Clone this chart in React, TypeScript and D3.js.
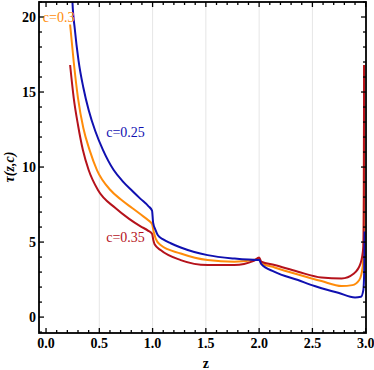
import React from 'react';
import * as d3 from 'd3';

// tau(z,c) curves, [z, tau]
const blue025: [number, number][] = [
  [0.24, 22.5], [0.248, 21], [0.27, 19.2], [0.305, 17.1], [0.35, 15.3], [0.40, 13.8],
  [0.462, 12.4], [0.535, 11.13], [0.635, 9.8], [0.72, 9.05], [0.808, 8.42], [0.887, 7.88],
  [0.96, 7.4], [0.995, 7.1], [1.005, 6.3], [1.028, 5.8], [1.05, 5.45], [1.1, 5.18], [1.17, 4.92],
  [1.264, 4.64], [1.516, 4.13], [1.767, 3.9], [1.99, 3.8], [2.0, 3.82],
  [2.019, 3.55], [2.145, 3.02], [2.365, 2.47], [2.52, 2.07], [2.742, 1.62],
  [2.90, 1.31], [2.955, 1.35], [2.978, 1.8], [2.986, 3.0], [2.99, 5.7]
];
const orange03: [number, number][] = [
  [0.226, 19.5], [0.26, 17.0], [0.30, 14.6], [0.35, 12.6], [0.409, 11.13],
  [0.478, 9.8], [0.604, 8.47], [0.70, 7.85], [0.808, 7.27], [0.887, 6.85], [0.96, 6.45],
  [0.995, 6.2], [1.01, 5.7], [1.028, 5.25], [1.075, 4.8], [1.264, 4.24],
  [1.516, 3.8], [1.767, 3.69], [1.99, 3.85], [2.0, 3.92], [2.02, 3.6],
  [2.145, 3.31], [2.365, 2.84], [2.585, 2.4], [2.774, 2.07], [2.875, 2.13],
  [2.94, 2.47], [2.972, 3.36], [2.982, 5.5], [2.985, 16.8]
];
const red035: [number, number][] = [
  [0.226, 16.8], [0.26, 14.6], [0.30, 12.8], [0.346, 11.13], [0.40, 9.8],
  [0.487, 8.47], [0.651, 7.27], [0.78, 6.55], [0.887, 6.05], [0.96, 5.75], [0.995, 5.55],
  [1.008, 5.1], [1.019, 4.85], [1.075, 4.47], [1.264, 3.8], [1.516, 3.47],
  [1.767, 3.47], [1.95, 3.75], [2.0, 3.98], [2.02, 3.7], [2.145, 3.47],
  [2.365, 3.02], [2.585, 2.64], [2.774, 2.58], [2.89, 2.91], [2.952, 3.58],
  [2.978, 4.69], [2.983, 8], [2.985, 16.8]
];

const series = [
  { name: 'c=0.3', data: orange03, color: '#ff8c0a' },
  { name: 'c=0.35', data: red035, color: '#b5121b' },
  { name: 'c=0.25', data: blue025, color: '#1010b0' }
];

const xTicks = [0, 0.5, 1, 1.5, 2, 2.5, 3];
const yTicks = [0, 5, 10, 15, 20];
const gridX = [0.5, 1, 1.5, 2, 2.5];

const labels = [
  { text: 'c=0.3', z: -0.03, tau: 19.7, color: '#ff8c0a' },
  { text: 'c=0.25', z: 0.565, tau: 12.0, color: '#1010b0' },
  { text: 'c=0.35', z: 0.565, tau: 5.0, color: '#b5121b' }
];

const W = 374;
const H = 370;
const left = 39;
const right = 366;
const top = 2;
const bottom = 333;

const font = 'Liberation Serif';

const App: React.FC = () => {
  const x = d3.scaleLinear().domain([-0.066, 3.003]).range([left, right]);
  const y = d3.scaleLinear().domain([-1.06, 21.0]).range([bottom, top]);

  const line = d3.line<[number, number]>()
    .x(d => x(d[0]))
    .y(d => y(d[1]))
    .curve(d3.curveMonotoneX);

  const xMinor = d3.range(0, 30.5, 1).map(v => v / 10);
  const yMinor = d3.range(-1, 22, 1);

  return (
    <svg width={W} height={H} style={{ position: 'absolute', left: 0, top: 0, background: '#fff' }}>
      <defs>
        <clipPath id="plot">
          <rect x={left} y={top} width={right - left} height={bottom - top} />
        </clipPath>
      </defs>
      {gridX.map(v => (
        <line key={'g' + v} x1={x(v)} x2={x(v)} y1={top} y2={bottom} stroke="#e6e6e6" strokeWidth={1} />
      ))}
      <g clipPath="url(#plot)">
        {series.map(s => (
          <path key={s.name} d={line(s.data) || ''} fill="none" stroke={s.color} strokeWidth={2} strokeLinejoin="round" />
        ))}
      </g>
      {/* frame */}
      <rect x={left} y={top} width={right - left} height={bottom - top} fill="none" stroke="#000" strokeWidth={1.8} />
      {xMinor.map(v => {
        const major = Math.abs(v * 2 - Math.round(v * 2)) < 1e-6;
        const len = major ? 5 : 3;
        return (
          <g key={'xt' + v}>
            <line x1={x(v)} x2={x(v)} y1={bottom} y2={bottom - len} stroke="#000" strokeWidth={1.3} />
            <line x1={x(v)} x2={x(v)} y1={top} y2={top + len} stroke="#000" strokeWidth={1.3} />
          </g>
        );
      })}
      {yMinor.map(v => {
        const major = v % 5 === 0;
        const len = major ? 5 : 3;
        return (
          <g key={'yt' + v}>
            <line x1={left} x2={left + len} y1={y(v)} y2={y(v)} stroke="#000" strokeWidth={1.3} />
            <line x1={right} x2={right - len} y1={y(v)} y2={y(v)} stroke="#000" strokeWidth={1.3} />
          </g>
        );
      })}
      {xTicks.map(v => (
        <text key={'xl' + v} x={x(v)} y={bottom + 15} textAnchor="middle" fontFamily={font} fontWeight="bold" fontSize={14}>
          {v.toFixed(1)}
        </text>
      ))}
      {yTicks.map(v => (
        <text key={'yl' + v} x={left - 3} y={y(v) + 5} textAnchor="end" fontFamily={font} fontWeight="bold" fontSize={14}>
          {v}
        </text>
      ))}
      <text x={x(1.5)} y={368} textAnchor="middle" fontFamily={font} fontWeight="bold" fontSize={14}>z</text>
      <text transform={`translate(14, ${y(10)}) rotate(-90)`} textAnchor="middle" fontFamily={font} fontWeight="bold" fontStyle="italic" fontSize={14}>
        τ(z,c)
      </text>
      {labels.map(l => (
        <text key={l.text} x={x(l.z)} y={y(l.tau)} fontFamily={font} fontSize={14} fill={l.color}>
          {l.text}
        </text>
      ))}
    </svg>
  );
};

export default App;
